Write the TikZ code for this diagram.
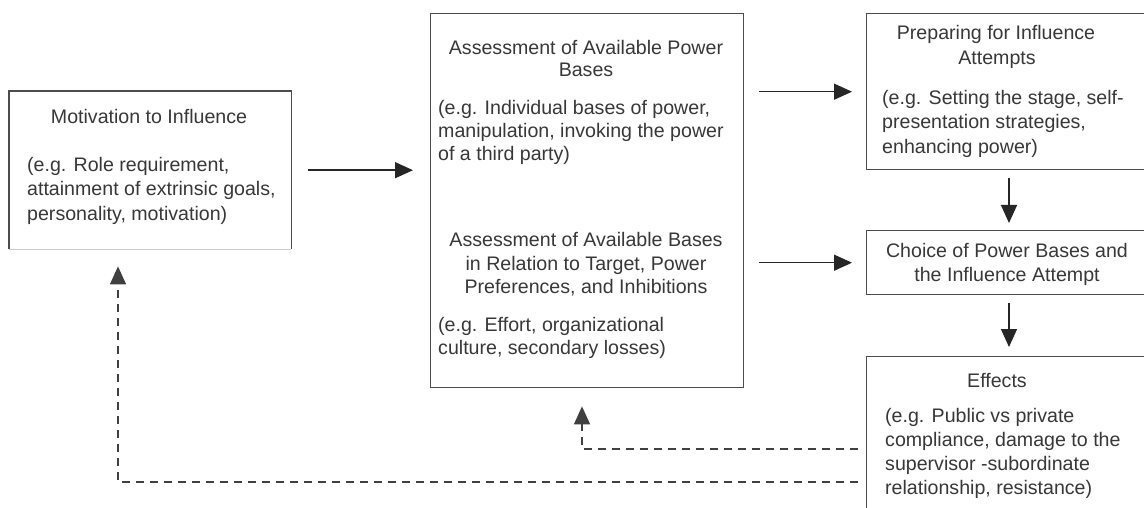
\documentclass[tikz,border=0pt]{standalone}
\usepackage{fontspec}
\setmainfont{Liberation Sans}
\usetikzlibrary{arrows.meta,calc}
\begin{document}
\begin{tikzpicture}[x=1pt,y=-1pt,
  box/.style={draw=black!70, line width=1.4pt, inner sep=0pt, anchor=north west},
  tx/.style={inner sep=0pt, text=black!78, font=\fontsize{19.6}{23}\selectfont},
  hd/.style={tx, anchor=base},
  bd/.style={tx, anchor=base west},
  arr/.style={draw=black!85, line width=1.4pt, -{Triangle[length=18pt,width=16pt]}},
  fb/.style={arr, draw=black!75, dash pattern=on 8pt off 6pt}]
\useasboundingbox (0,0) rectangle (1144,508);
\fill[white] (0,0) rectangle (1144,508);
\begin{scope}
\clip (0,0) rectangle (1144,508);
% boxes
\node[box, draw=none, minimum width=281pt, minimum height=157pt] (mot) at (9,91) {};
\draw[draw=black!70, line width=1.4pt] (mot.south west) -- (mot.north west) -- (mot.north east) -- (mot.south east);
\draw[draw=black!20, line width=1.4pt] (mot.south west) -- (mot.south east);
\node[box, minimum width=313pt, minimum height=374pt] (mid) at (430,13) {};
\node[box, minimum width=284pt, minimum height=156pt] (prep) at (866,13) {};
\node[box, minimum width=284pt, minimum height=64pt] (choice) at (866,230) {};
\node[box, minimum width=284pt, minimum height=170pt] (eff) at (866,356) {};
\end{scope}
% texts: motivation
\node[hd] (m0) at (149,124) {Motivation to Influence};
\node[bd] (m1) at (27,172) {(e.g. Role requirement,};
\node[bd] (m2) at (27,196) {attainment of extrinsic goals,};
\node[bd] (m3) at (27,220) {personality, motivation)};
% middle
\node[hd] (a0) at (586,55) {Assessment of Available Power};
\node[hd] (a1) at (586,77) {Bases};
\node[bd] (a2) at (438,115) {(e.g. Individual bases of power,};
\node[bd] (a3) at (438,138) {manipulation, invoking the power};
\node[bd] (a4) at (438,161) {of a third party)};
\node[hd] (b0) at (586,247) {Assessment of Available Bases};
\node[hd] (b1) at (586,270) {in Relation to Target, Power};
\node[hd] (b2) at (586,293) {Preferences, and Inhibitions};
\node[bd] (b3) at (438,331) {(e.g. Effort, organizational};
\node[bd] (b4) at (438,354) {culture, secondary losses)};
% preparing
\node[hd] (p0) at (996,40) {Preparing for Influence};
\node[hd] (p1) at (997,65) {Attempts};
\node[bd] (p2) at (882,105) {(e.g. Setting the stage, self-};
\node[bd] (p3) at (882,129) {presentation strategies,};
\node[bd] (p4) at (882,154) {enhancing power)};
% choice
\node[hd] (c0) at (1007,257) {Choice of Power Bases and};
\node[hd] (c1) at (1007,281) {the Influence Attempt};
% effects
\node[hd] (e0) at (997,387) {Effects};
\node[bd] (e1) at (885,422) {(e.g. Public vs private};
\node[bd] (e2) at (885,446) {compliance, damage to the};
\node[bd] (e3) at (885,470) {supervisor -subordinate};
\node[bd] (e4) at (885,494) {relationship, resistance)};
% solid connectors
\draw[arr] ([xshift=17pt]mot.east) -- ([xshift=-17pt]mot.east -| mid.west);
\draw[arr] ([xshift=15pt]mid.east |- prep.west) -- ([xshift=-14pt]prep.west);
\draw[arr] ([xshift=15pt]mid.east |- choice.west) -- ([xshift=-14pt]choice.west);
\draw[arr] ([yshift=-8pt]prep.south -| 1009,0) -- ([yshift=7pt]choice.north -| 1009,0);
\draw[arr] ([yshift=-8pt]choice.south -| 1009,0) -- ([yshift=9pt]eff.north -| 1009,0);
% feedback dashed connectors
\coordinate (f1) at ([xshift=-8pt]eff.west |- 0,449);
\coordinate (f2) at ([xshift=-8pt]eff.west |- 0,482);
\draw[fb] (f1) -| ([yshift=-18pt]mid.south -| 582,0);
\draw[fb] (f2) -| ([yshift=-17pt]mot.south -| 118,0);
\end{tikzpicture}
\end{document}
